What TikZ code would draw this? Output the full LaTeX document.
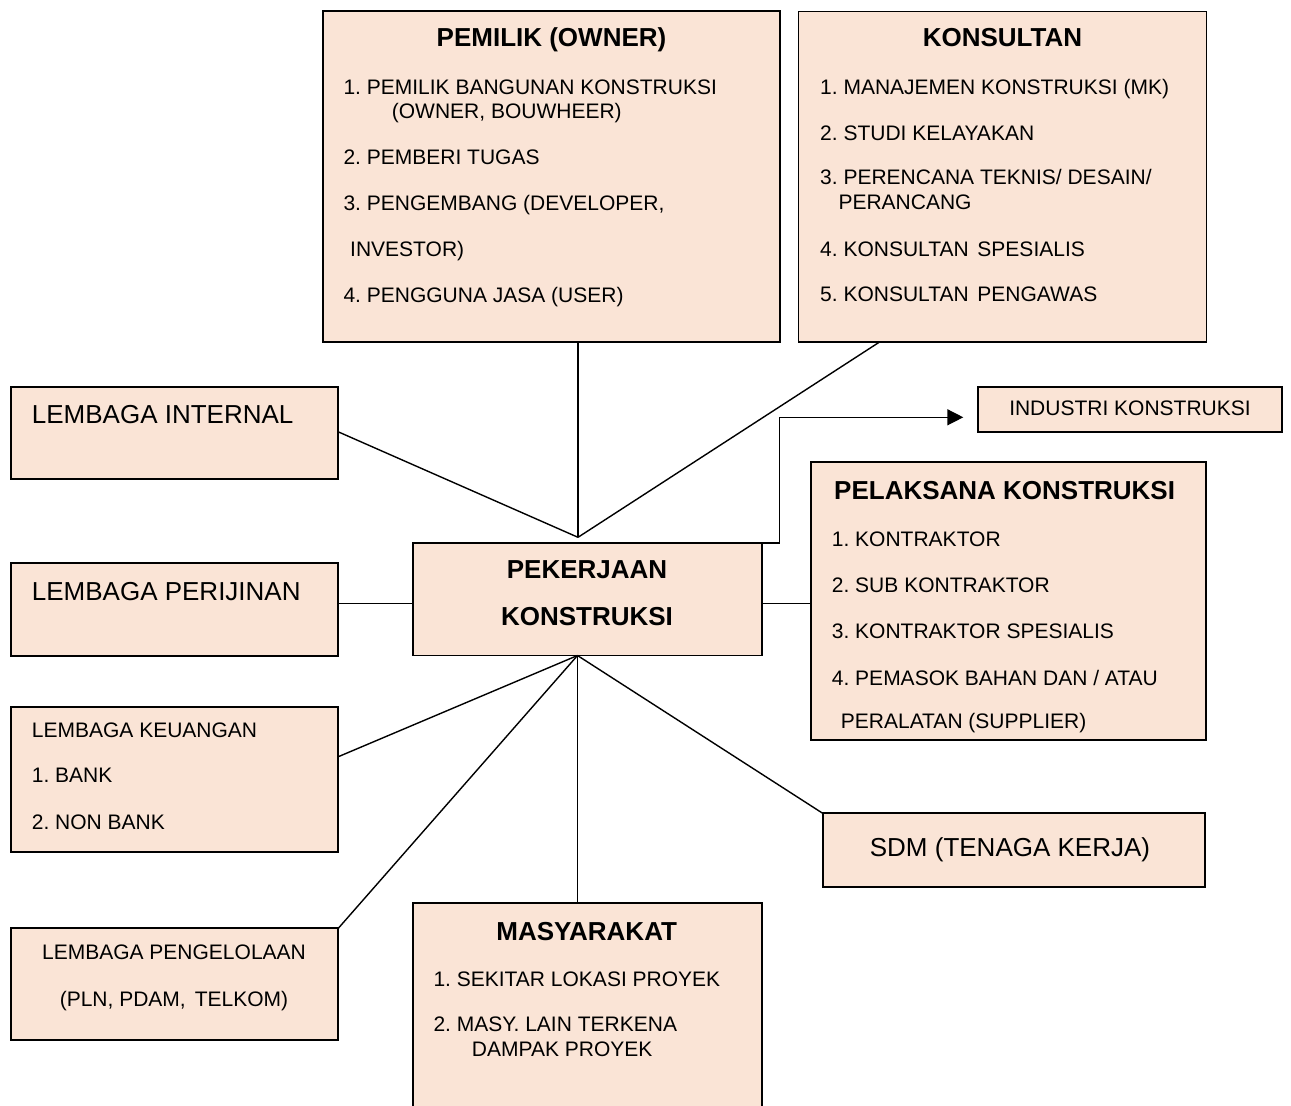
\documentclass[tikz,border=0pt]{standalone}
\usepackage{fontspec}
\setmainfont{Liberation Sans}
\usetikzlibrary{arrows.meta}
\frenchspacing

\definecolor{boxfill}{RGB}{250,228,214}

\tikzset{
  box/.style={draw, line width=1.8pt, fill=boxfill, inner sep=0pt, outer sep=0pt, anchor=north west},
  conn/.style={line width=1.4pt, line join=miter},
  item/.style={anchor=base west, inner sep=0pt, font=\fontsize{21}{25}\selectfont},
  label/.style={anchor=base west, inner sep=0pt, font=\fontsize{26}{30}\selectfont},
  ctrlabel/.style={anchor=base, inner sep=0pt, font=\fontsize{26}{30}\selectfont},
  ctritem/.style={anchor=base, inner sep=0pt, font=\fontsize{21}{25}\selectfont},
  head/.style={anchor=base, inner sep=0pt, font=\fontsize{26}{30}\selectfont\bfseries},
  headleft/.style={anchor=base west, inner sep=0pt, font=\fontsize{26}{30}\selectfont\bfseries}
}

\begin{document}
\frenchspacing
\begin{tikzpicture}[x=1pt, y=-1pt]
  \clip (0,0) rectangle (1291,1106);
  \fill[white] (0,0) rectangle (1291,1106);

  % boxes
  \node[box, minimum width=456.7pt, minimum height=331.6pt] (pemilik) at (323.3,10.7) {};
  \node[box, minimum width=408pt, minimum height=330.2pt] (konsultan) at (798.5,11.5) {};
  \node[box, minimum width=327.6pt, minimum height=92.3pt] (internal) at (10.7,386.7) {};
  \node[box, minimum width=327.6pt, minimum height=92.7pt] (perijinan) at (10.7,563.3) {};
  \node[box, minimum width=327.6pt, minimum height=144.4pt] (keuangan) at (10.7,707.3) {};
  \node[box, minimum width=327.6pt, minimum height=111.7pt] (pengelolaan) at (10.7,928.3) {};
  \node[box, minimum width=349pt, minimum height=112.5pt] (center) at (412.7,543) {};
  \node[box, minimum width=304pt, minimum height=45pt] (industri) at (978.3,386.7) {};
  \node[box, minimum width=395.3pt, minimum height=277.7pt] (pelaksana) at (810.7,462.3) {};
  \node[box, minimum width=382.3pt, minimum height=73.4pt] (sdm) at (822.7,813.3) {};
  \node[box, minimum width=349pt, minimum height=230pt] (masyarakat) at (412.7,903.3) {};

  % junction points above and below the central box
  \coordinate (jt) at (578,537.3);
  \coordinate (jb) at (577.5,655.5);

  % connectors
  \draw[conn] (jt |- pemilik.south) -- (jt);
  \draw[conn] ([xshift=81.5pt]konsultan.south west) -- (jt);
  \draw[conn] ([yshift=1pt]internal.east) -- (jt);
  \draw[conn] ([yshift=-4pt]center.west -| perijinan.east) -- ([yshift=-4pt]center.west);
  \draw[conn] ([yshift=-4pt]center.east) -- ([yshift=-4pt]center.east -| pelaksana.west);
  \draw[conn] (jb) -- ([yshift=22.8pt]keuangan.east);
  \draw[conn] (jb) -- (pengelolaan.north east);
  \draw[conn] (jb) -- (jb |- masyarakat.north);
  \draw[conn] (jb) -- (sdm.north west);
  \draw[conn, -{Triangle[length=16pt, width=16pt]}]
    ([xshift=-15pt]center.north east) -- ++(32.6,0)
    |- ([xshift=-15pt, yshift=-8.1pt]industri.west);

  % PEMILIK
  \node[head] (pm-t) at (551.5,46) {PEMILIK (OWNER)};
  \node[item] (pm-1) at (343.3,94.3) {1. PEMILIK BANGUNAN KONSTRUKSI};
  \node[item] (pm-1b) at (391.7,118) {(OWNER, BOUWHEER)};
  \node[item] (pm-2) at (343.3,164) {2. PEMBERI TUGAS};
  \node[item] (pm-3) at (343.3,210.7) {3. PENGEMBANG (DEVELOPER,};
  \node[item] (pm-3b) at (350,256) {INVESTOR)};
  \node[item] (pm-4) at (343.3,302.7) {4. PENGGUNA JASA (USER)};

  % KONSULTAN
  \node[head] (ks-t) at (1002.5,46) {KONSULTAN};
  \node[item] (ks-1) at (820,94.3) {1. MANAJEMEN KONSTRUKSI (MK)};
  \node[item] (ks-2) at (820,140) {2. STUDI KELAYAKAN};
  \node[item] (ks-3) at (820,184.3) {3. PERENCANA TEKNIS/ DESAIN/};
  \node[item] (ks-3b) at (838.3,209.3) {PERANCANG};
  \node[item] (ks-4) at (820,256) {4. KONSULTAN\hspace{8.7pt}SPESIALIS};
  \node[item] (ks-5) at (820,301.7) {5. KONSULTAN\hspace{8.7pt}PENGAWAS};

  % left column
  \node[label] (in-t) at (31.7,423.3) {LEMBAGA INTERNAL};
  \node[label] (pj-t) at (31.7,600.7) {LEMBAGA PERIJINAN};
  \node[item] (ku-t) at (31.7,737.3) {LEMBAGA KEUANGAN};
  \node[item] (ku-1) at (31.7,782.7) {1. BANK};
  \node[item] (ku-2) at (31.7,829.3) {2. NON BANK};
  \node[ctritem] (pg-t) at (174,959.3) {LEMBAGA PENGELOLAAN};
  \node[ctritem] (pg-1) at (174,1006) {(PLN, PDAM,\hspace{9pt}TELKOM)};

  % central box
  \node[head] (ct-1) at (587,578.3) {PEKERJAAN};
  \node[head] (ct-2) at (587,625) {KONSTRUKSI};

  % right column
  \node[ctritem] (id-t) at (1130,415) {INDUSTRI KONSTRUKSI};
  \node[headleft] (pl-t) at (834,499.3) {PELAKSANA KONSTRUKSI};
  \node[item] (pl-1) at (831.7,546) {1. KONTRAKTOR};
  \node[item] (pl-2) at (831.7,592.3) {2. SUB KONTRAKTOR};
  \node[item] (pl-3) at (831.7,638.3) {3. KONTRAKTOR SPESIALIS};
  \node[item] (pl-4) at (831.7,685) {4. PEMASOK BAHAN DAN / ATAU};
  \node[item] (pl-4b) at (840.7,728.3) {PERALATAN (SUPPLIER)};
  \node[ctrlabel] (sd-t) at (1010,856.7) {SDM (TENAGA KERJA)};

  % MASYARAKAT
  \node[head] (ms-t) at (586.7,940.7) {MASYARAKAT};
  \node[item] (ms-1) at (433.3,986.7) {1. SEKITAR LOKASI PROYEK};
  \node[item] (ms-2) at (433.3,1031.7) {2. MASY. LAIN TERKENA};
  \node[item] (ms-2b) at (471.7,1056.7) {DAMPAK PROYEK};
\end{tikzpicture}
\end{document}
